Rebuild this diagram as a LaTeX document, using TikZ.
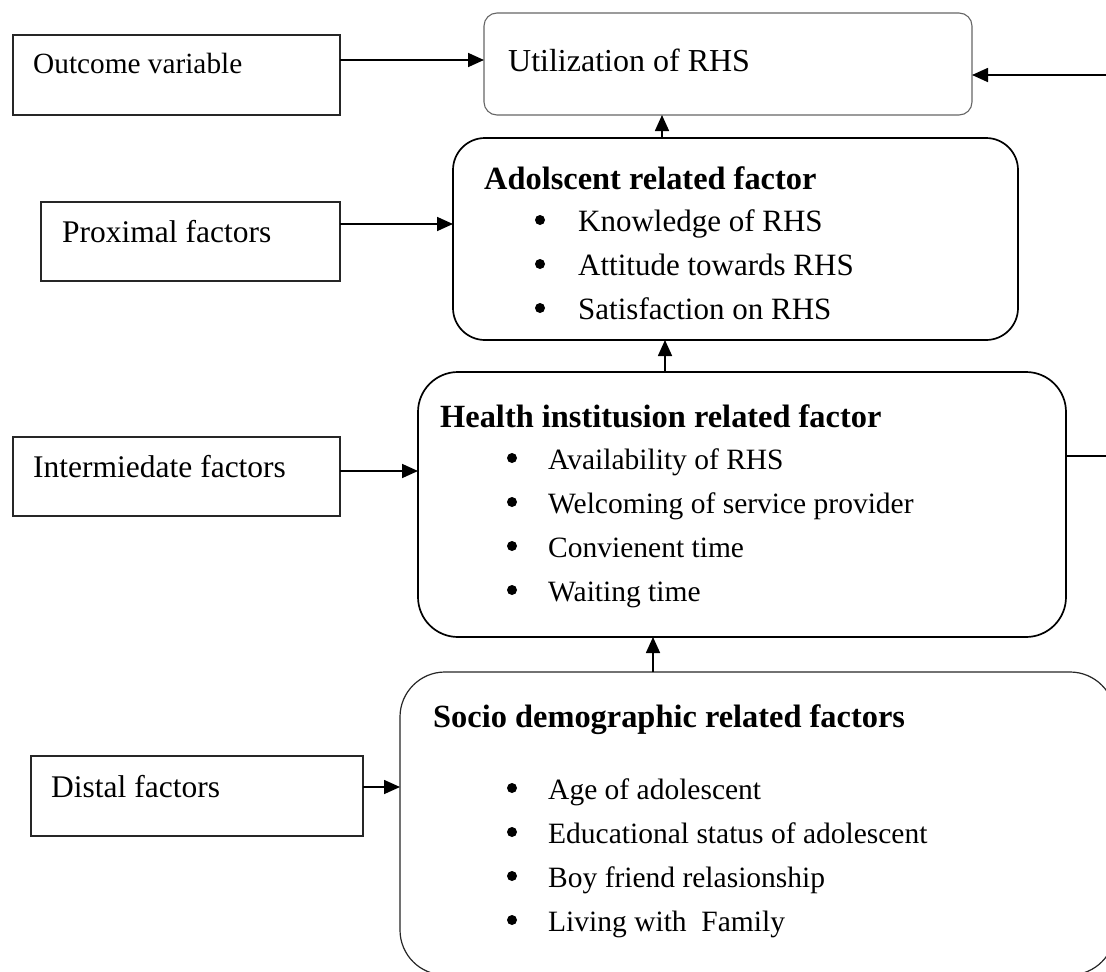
\documentclass[tikz,border=0pt]{standalone}
\usepackage{fontspec}
\setmainfont{Liberation Serif}
\usetikzlibrary{arrows.meta}
\begin{document}
\begin{tikzpicture}[x=1pt,y=-1pt,
  lbox/.style={draw=black!85, line width=1.7pt, inner sep=0pt, outer sep=0pt},
  rbox/.style={draw=black, line width=1.7pt, inner sep=0pt, outer sep=0pt},
  txt/.style={anchor=base west, inner sep=0pt, font=\fontsize{31.5}{38}\selectfont},
  itm/.style={anchor=base west, inner sep=0pt, font=\fontsize{29.5}{36}\selectfont},
  itma/.style={anchor=base west, inner sep=0pt, font=\fontsize{31}{37}\selectfont},
  hdr/.style={anchor=base west, inner sep=0pt, font=\fontsize{32.4}{38}\selectfont\bfseries},
  bul/.style={circle, fill=black, inner sep=0pt, minimum size=10pt},
  arr/.style={line width=1.7pt, -{Triangle[length=16pt,width=14pt]}},
  ln/.style={line width=1.7pt}]
\useasboundingbox (0,0) rectangle (1106,972);
\clip (0,0) rectangle (1106,972);

% left label boxes
\node[lbox, minimum width=327pt, minimum height=80pt] (outcome) at (176.5,75) {};
\node[lbox, minimum width=299pt, minimum height=79pt] (proximal) at (190.5,241.5) {};
\node[lbox, minimum width=327pt, minimum height=79pt] (inter) at (176.5,476.5) {};
\node[lbox, minimum width=332pt, minimum height=80pt] (distal) at (197,796) {};

\node[txt, font=\fontsize{29.3}{35}\selectfont] (toutcome) at (33,73) {Outcome variable};
\node[txt] (tproximal) at (62,242) {Proximal factors};
\node[txt] (tinter) at (33,477) {Intermiedate factors};
\node[txt] (tdistal) at (51,797) {Distal factors};

% main boxes
\node[draw=black!60, line width=1.1pt, rounded corners=13pt, inner sep=0pt, outer sep=0pt,
      minimum width=488pt, minimum height=102pt] (util) at (728,64) {};
\node[rbox, rounded corners=32pt, minimum width=565pt, minimum height=202pt] (adol) at (735.5,239) {};
\node[rbox, rounded corners=40pt, minimum width=648pt, minimum height=265pt] (health) at (742,504.5) {};
\node[draw=black!85, line width=1.2pt, rounded corners=45pt, inner sep=0pt, outer sep=0pt,
      minimum width=715pt, minimum height=303pt] (socio) at (757.5,823.5) {};

% texts in main boxes
\node[txt, font=\fontsize{32}{38}\selectfont] (tutil) at (508,71) {Utilization of RHS};

\node[hdr] (hadol) at (484,189) {Adolscent related factor};
\node[bul] (b1) at (540,220) {};
\node[itma] (a1) at (578,231) {Knowledge of RHS};
\node[bul] (b2) at (540,264) {};
\node[itma] (a2) at (578,275) {Attitude towards RHS};
\node[bul] (b3) at (540,308) {};
\node[itma] (a3) at (578,319) {Satisfaction on RHS};

\node[hdr] (hhealth) at (440,427) {Health institusion related factor};
\node[bul] (b4) at (512,458) {};
\node[itm] (h1) at (548,469) {Availability of RHS};
\node[bul] (b5) at (512,502) {};
\node[itm] (h2) at (548,513) {Welcoming of service provider};
\node[bul] (b6) at (512,546) {};
\node[itm] (h3) at (548,557) {Convienent time};
\node[bul] (b7) at (512,590) {};
\node[itm] (h4) at (548,601) {Waiting time};

\node[hdr] (hsocio) at (433,727) {Socio demographic related factors};
\node[bul] (b8) at (512,788) {};
\node[itm] (s1) at (548,799) {Age of adolescent};
\node[bul] (b9) at (512,832) {};
\node[itm] (s2) at (548,843) {Educational status of adolescent};
\node[bul] (b10) at (512,876) {};
\node[itm] (s3) at (548,887) {Boy friend relasionship};
\node[bul] (b11) at (512,920) {};
\node[itm] (s4) at (548,931) {Living with\ \ Family};

% connectors
\draw[arr] ([yshift=15pt]outcome.east) coordinate (o1) -- (o1 -| util.west);
\draw[arr] ([yshift=17.5pt]proximal.east) coordinate (p1) -- (p1 -| adol.west);
\draw[arr] ([yshift=5.5pt]inter.east) coordinate (i1) -- (i1 -| health.west);
\draw[arr] ([yshift=9pt]distal.east) coordinate (d1) -- (d1 -| socio.west);

\draw[arr] ([xshift=-73.5pt]adol.north) coordinate (v1) -- (v1 |- util.south);
\draw[arr] ([xshift=-77pt]health.north) coordinate (v2) -- (v2 |- adol.south);
\draw[arr] ([xshift=-104.5pt]socio.north) coordinate (v3) -- (v3 |- health.south);

\coordinate (rin) at (1106,75);
\draw[arr] (rin) -- (rin -| util.east);
\coordinate (hout) at (1106,456);
\draw[ln] (hout -| health.east) -- (hout);
\end{tikzpicture}
\end{document}
